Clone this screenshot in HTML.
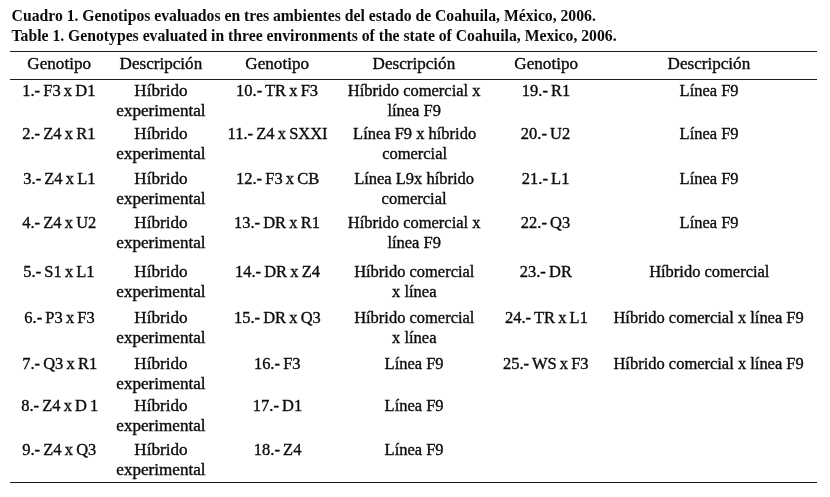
<!DOCTYPE html>
<html lang="es">
<head>
<meta charset="utf-8">
<title>Cuadro 1. Genotipos evaluados</title>
<style>
html,body{margin:0;padding:0;background:#fff;}
body{width:830px;height:497px;position:relative;overflow:hidden;color:#0b0b0b;
  font-family:"Liberation Serif","Times New Roman",serif;}
.cap{position:absolute;left:11.6px;margin:0;font-weight:bold;font-size:15.7px;line-height:20px;white-space:nowrap;color:#0b0b0b;}
#c1{top:6.4px;}
#c2{top:26.2px;}
.rule{position:absolute;left:10px;width:807px;height:0;border-top:1px solid #1c1c1c;}
table{position:absolute;left:10.00px;top:52.00px;width:803.20px;border-collapse:collapse;table-layout:fixed;
  font-size:15.70px;line-height:20.0px;-webkit-text-stroke:0.35px #0b0b0b;}
td,th{padding:0;text-align:center;vertical-align:top;font-weight:normal;white-space:nowrap;}
thead th{height:28.70px;padding-top:1.70px;box-sizing:border-box;}
td span,th span{display:inline-block;transform-origin:50% 50%;transform:scaleX(var(--k,1));}
.g{--k:1.05;word-spacing:-0.9px;}
.d{--k:1.05;}
.d2{--k:1.09;}
.h{--k:1.09;}
</style>
</head>
<body>
<p class="cap" id="c1">Cuadro 1. Genotipos evaluados en tres ambientes del estado de Coahuila, México, 2006.</p>
<p class="cap" id="c2">Table 1. Genotypes evaluated in three environments of the state of Coahuila, Mexico, 2006.</p>
<div class="rule" style="top:51px"></div>
<div class="rule" style="top:79px"></div>
<div class="rule" style="top:482px"></div>
<table>
<colgroup>
<col style="width:98.60px"><col style="width:104.80px"><col style="width:127.80px"><col style="width:146.00px"><col style="width:117.60px"><col style="width:208.40px">
</colgroup>
<thead>
<tr><th><span class="h">Genotipo</span></th><th><span class="h">Descripción</span></th><th><span class="h">Genotipo</span></th><th><span class="h">Descripción</span></th><th><span class="h">Genotipo</span></th><th><span class="h">Descripción</span></th></tr>
</thead>
<tbody>
<tr style="height:43.00px"><td><span class="g">1.- F3 x D1</span></td><td><span class="d2">Híbrido<br>experimental</span></td><td><span class="g">10.- TR x F3</span></td><td><span class="d">Híbrido comercial x<br>línea F9</span></td><td><span class="g">19.- R1</span></td><td><span class="d">Línea F9</span></td></tr>
<tr style="height:45.00px"><td><span class="g">2.- Z4 x R1</span></td><td><span class="d2">Híbrido<br>experimental</span></td><td><span class="g">11.- Z4 x SXXI</span></td><td><span class="d">Línea F9 x híbrido<br>comercial</span></td><td><span class="g">20.- U2</span></td><td><span class="d">Línea F9</span></td></tr>
<tr style="height:44.00px"><td><span class="g">3.- Z4 x L1</span></td><td><span class="d2">Híbrido<br>experimental</span></td><td><span class="g">12.- F3 x CB</span></td><td><span class="d">Línea L9x híbrido<br>comercial</span></td><td><span class="g">21.- L1</span></td><td><span class="d">Línea F9</span></td></tr>
<tr style="height:49.00px"><td><span class="g">4.- Z4 x U2</span></td><td><span class="d2">Híbrido<br>experimental</span></td><td><span class="g">13.- DR x R1</span></td><td><span class="d">Híbrido comercial x<br>línea F9</span></td><td><span class="g">22.- Q3</span></td><td><span class="d">Línea F9</span></td></tr>
<tr style="height:46.00px"><td><span class="g">5.- S1 x L1</span></td><td><span class="d2">Híbrido<br>experimental</span></td><td><span class="g">14.- DR x Z4</span></td><td><span class="d">Híbrido comercial<br>x línea</span></td><td><span class="g">23.- DR</span></td><td><span class="d">Híbrido comercial</span></td></tr>
<tr style="height:46.00px"><td><span class="g">6.- P3 x F3</span></td><td><span class="d2">Híbrido<br>experimental</span></td><td><span class="g">15.- DR x Q3</span></td><td><span class="d">Híbrido comercial<br>x línea</span></td><td><span class="g">24.- TR x L1</span></td><td><span class="d">Híbrido comercial x línea F9</span></td></tr>
<tr style="height:42.00px"><td><span class="g">7.- Q3 x R1</span></td><td><span class="d2">Híbrido<br>experimental</span></td><td><span class="g">16.- F3</span></td><td><span class="d">Línea F9</span></td><td><span class="g">25.- WS x F3</span></td><td><span class="d">Híbrido comercial x línea F9</span></td></tr>
<tr style="height:44.00px"><td><span class="g">8.- Z4 x D 1</span></td><td><span class="d2">Híbrido<br>experimental</span></td><td><span class="g">17.- D1</span></td><td><span class="d">Línea F9</span></td><td></td><td></td></tr>
<tr style="height:26.00px"><td><span class="g">9.- Z4 x Q3</span></td><td><span class="d2">Híbrido<br>experimental</span></td><td><span class="g">18.- Z4</span></td><td><span class="d">Línea F9</span></td><td></td><td></td></tr>
</tbody>
</table>
</body>
</html>
